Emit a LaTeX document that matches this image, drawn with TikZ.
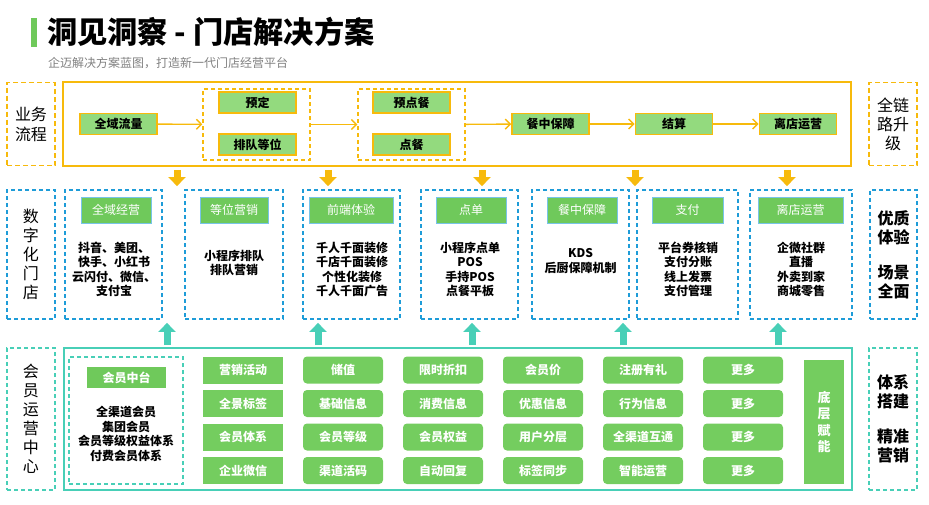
\documentclass[tikz,border=0pt]{standalone}
\usepackage{fontspec}
\setmainfont{Noto Sans CJK SC}
\newfontfamily\heavyfont{Noto Sans CJK SC Black}
\usepackage{tikz}
\usetikzlibrary{arrows,arrows.meta,positioning,calc}
\definecolor{orng}{HTML}{F7BA0C}
\definecolor{lgrn}{HTML}{93DA7E}
\definecolor{hgrn}{HTML}{6FC95B}
\definecolor{tgrn}{HTML}{74CD5F}
\definecolor{dblu}{HTML}{1E9CD8}
\definecolor{teal}{HTML}{48CFB7}
\tikzstyle{orlabel}=[draw=orng,line width=1.6pt,dash pattern=on 5pt off 3pt,inner sep=0pt,align=center,font=\fontsize{16}{20}\selectfont]
\tikzstyle{bllabel}=[draw=dblu,line width=1.8pt,dash pattern=on 4pt off 3pt,inner sep=0pt,align=center,font=\fontsize{16}{19}\selectfont]
\tikzstyle{tllabel}=[draw=teal,line width=1.8pt,dash pattern=on 4pt off 3pt,inner sep=0pt,align=center,font=\fontsize{16}{19}\selectfont]
\tikzstyle{flowbox}=[draw=orng,fill=lgrn,line width=1.6pt,minimum width=77pt,minimum height=21pt,inner sep=0pt,font=\fontsize{12}{14}\selectfont\bfseries]
\tikzstyle{grpbox}=[draw=orng,line width=1.4pt,dash pattern=on 4pt off 3pt,minimum width=107pt,minimum height=71pt,inner sep=0pt]
\tikzstyle{card}=[draw=dblu,line width=1.8pt,dash pattern=on 4pt off 3pt,minimum height=129pt,inner sep=0pt]
\tikzstyle{hdr}=[fill=hgrn,draw=dblu!60,line width=0.6pt,minimum height=26pt,inner sep=0pt,text=white,font=\fontsize{12}{14}\selectfont]
\tikzstyle{body}=[align=center,inner sep=0pt,font=\fontsize{12}{14.5}\selectfont\bfseries]
\tikzstyle{tag}=[fill=tgrn,rounded corners=4pt,minimum width=80pt,minimum height=27pt,inner sep=0pt,text=white,font=\fontsize{12}{14}\selectfont\bfseries]
\tikzstyle{flowarr}=[draw=orng,line width=1.4pt,-{Straight Barb[length=5pt,width=10pt]}]
\tikzstyle{downarr}=[draw=orng,line width=7pt,-{Triangle[width=17pt,length=9pt]}]
\tikzstyle{uparr}=[draw=teal,line width=7pt,-{Triangle[width=17pt,length=9pt]}]

\begin{document}
\begin{tikzpicture}[x=1pt,y=-1pt]
\useasboundingbox (0,0) rectangle (929,504);

% title
\node [fill=hgrn,minimum width=6pt,minimum height=29pt,inner sep=0pt] (bar) at (34,32.5) {};
\node [anchor=west,inner sep=0pt,font=\fontsize{30.2}{32}\heavyfont] (title) at (47,32) {洞见洞察 - 门店解决方案};
\node [anchor=west,inner sep=0pt,text=black!50,font=\fontsize{12}{14}\selectfont] (subtitle) at (48,63) {企迈解决方案蓝图，打造新一代门店经营平台};

% business flow
\node [orlabel,minimum width=48pt,minimum height=83pt] (ywlc) at (31,124) {业务\\流程};
\node [draw=orng,line width=1.8pt,minimum width=788pt,minimum height=84pt,inner sep=0pt] (flow) at (457,124) {};
\node [orlabel,minimum width=48pt,minimum height=83pt,font=\fontsize{16}{19}\selectfont] (qllsj) at (893,124) {全链\\路升\\级};

\node [flowbox] (qyll) at (118.5,124) {全域流量};
\node [grpbox] (grpA) at (256.5,124.5) {};
\node [flowbox] (yd) at (257.5,102.5) {预定};
\node [flowbox] (pddw) at (257.5,144.5) {排队等位};
\node [grpbox] (grpB) at (411.5,124.5) {};
\node [flowbox] (ydc) at (411.5,102.5) {预点餐};
\node [flowbox] (dc) at (411.5,144.5) {点餐};
\node [flowbox] (czbz) at (550.5,124) {餐中保障};
\node [flowbox] (js) at (674,124) {结算};
\node [flowbox] (ldyy) at (798,124) {离店运营};

\draw [flowarr] (qyll) -- (grpA);
\draw [flowarr] (grpA) -- (grpB);
\draw [flowarr] (grpB) -- (czbz);
\draw [flowarr] (czbz) -- (js);
\draw [flowarr] (js) -- (ldyy);

% digital store
\node [bllabel,minimum width=48pt,minimum height=129pt] (szhmd) at (31,254.5) {数\\字\\化\\门\\店};
\node [card,minimum width=97pt] (c1) at (113.5,254.5) {};
\node [card,minimum width=98pt] (c2) at (234,254.5) {};
\node [card,minimum width=97pt] (c3) at (351.5,254.5) {};
\node [card,minimum width=97pt] (c4) at (469.5,254.5) {};
\node [card,minimum width=97pt] (c5) at (580.5,254.5) {};
\node [card,minimum width=101pt] (c6) at (687.5,254.5) {};
\node [card,minimum width=102pt] (c7) at (801,254.5) {};
\node [bllabel,minimum width=47pt,minimum height=129pt,font=\fontsize{16}{19}\selectfont\bfseries] (yztj) at (893.5,254.5) {优质\\体验\\[16pt]场景\\全面};

\node [hdr,minimum width=70pt] (h1) at (116,210) {全域经营};
\node [hdr,minimum width=68pt] (h2) at (234,210) {等位营销};
\node [hdr,minimum width=84pt] (h3) at (351,210) {前端体验};
\node [hdr,minimum width=70pt] (h4) at (471,210) {点单};
\node [hdr,minimum width=70pt] (h5) at (582,210) {餐中保障};
\node [hdr,minimum width=71pt] (h6) at (687.5,210) {支付};
\node [hdr,minimum width=85pt] (h7) at (800.5,210) {离店运营};

\node [body] (b1) at (114,269.5) {抖音、美团、\\快手、小红书\\云闪付、微信、\\支付宝};
\node [body] (b2) at (234,263) {小程序排队\\排队营销};
\node [body] (b3) at (352,269.5) {千人千面装修\\千店千面装修\\个性化装修\\千人千面广告};
\node [body] (b4) at (470,269.5) {小程序点单\\POS\\手持POS\\点餐平板};
\node [body] (b5) at (580.5,261) {KDS\\后厨保障机制};
\node [body] (b6) at (688,269.5) {平台券核销\\支付分账\\线上发票\\支付管理};
\node [body] (b7) at (801,269.5) {企微社群\\直播\\外卖到家\\商城零售};

\foreach \x in {177,328,482,635,787}
  \draw [downarr] ([yshift=-3pt]flow.south -| \x,0) -- ([yshift=3pt]c1.north -| \x,0);

% member center
\node [tllabel,minimum width=48pt,minimum height=142pt] (hyyy) at (31,419) {会\\员\\运\\营\\中\\心};
\node [draw=teal,line width=1.8pt,minimum width=788pt,minimum height=142pt,inner sep=0pt] (memb) at (458,419) {};
\node [tllabel,minimum width=48pt,minimum height=142pt,font=\fontsize{16}{19}\selectfont\bfseries] (txdj) at (893,419) {体系\\搭建\\[16pt]精准\\营销};

\node [draw=teal,line width=1.6pt,dash pattern=on 4pt off 3pt,minimum width=114pt,minimum height=127pt,inner sep=0pt] (zt) at (126,420.5) {};
\node [fill=hgrn,minimum width=79pt,minimum height=21pt,inner sep=0pt,text=white,font=\fontsize{12}{14}\selectfont\bfseries] (ztt) at (126.5,377.5) {会员中台};
\node [body] (ztb) at (126,434) {全渠道会员\\集团会员\\会员等级权益体系\\付费会员体系};

\foreach \j/\y in {1/370,2/403.5,3/437,4/470.5}
  \node [tag,rounded corners=0pt] (t\j1) at (243,\y) {};
\node at (t11) [text=white,font=\fontsize{12}{14}\selectfont\bfseries] {营销活动};
\node at (t21) [text=white,font=\fontsize{12}{14}\selectfont\bfseries] {全景标签};
\node at (t31) [text=white,font=\fontsize{12}{14}\selectfont\bfseries] {会员体系};
\node at (t41) [text=white,font=\fontsize{12}{14}\selectfont\bfseries] {企业微信};

\foreach \a/\b/\c/\d [count=\i from 2] in {储值/基础信息/会员等级/渠道活码,限时折扣/消费信息/会员权益/自动回复,会员价/优惠信息/用户分层/标签同步,注册有礼/行为信息/全渠道互通/智能运营,更多/更多/更多/更多}{
  \node [tag] (t1\i) at (143+100*\i,370) {\a};
  \node [tag] (t2\i) at (143+100*\i,403.5) {\b};
  \node [tag] (t3\i) at (143+100*\i,437) {\c};
  \node [tag] (t4\i) at (143+100*\i,470.5) {\d};
}
\node [fill=tgrn,minimum width=40pt,minimum height=124pt,inner sep=0pt,align=center,text=white,font=\fontsize{13}{16.3}\selectfont\bfseries] (dcfn) at (824,422) {底\\层\\赋\\能};

\foreach \x in {167,318,472,623,778}
  \draw [uparr] ([yshift=2pt]memb.north -| \x,0) -- ([yshift=-3pt]c1.south -| \x,0);
\end{tikzpicture}
\end{document}
